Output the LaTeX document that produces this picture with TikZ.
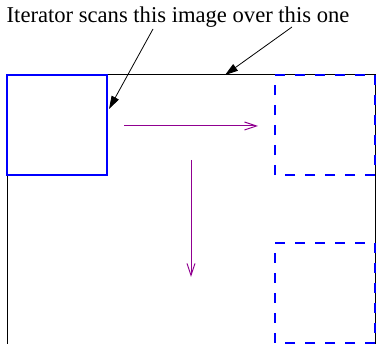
\documentclass[tikz,border=0pt]{standalone}
\usepackage{fontspec}
\setmainfont{Liberation Serif}
\usetikzlibrary{arrows.meta}
\definecolor{figblue}{RGB}{0,0,255}
\definecolor{figmag}{RGB}{144,0,144}
\tikzset{
  outer/.style={draw=black, line width=1pt},
  window/.style={draw=figblue, line width=1.5pt},
  ghost/.style={draw=figblue, line width=1.5pt, dash pattern=on 10pt off 10pt},
  pointer/.style={draw=black, line width=0.8pt, -{Triangle[length=13pt,width=8pt]}},
  scan/.style={draw=figmag, line width=1pt, -{Straight Barb[length=12pt,width=8pt]}},
}
\begin{document}
\begin{tikzpicture}[x=1pt,y=-1pt]
\useasboundingbox (0,0) rectangle (376,344);
\clip (0,0) rectangle (376,344);
% the large image being scanned
\draw[outer] (7,75) rectangle (375,380);
% later positions of the window
\draw[ghost] (275,175) -- (275,75) -- (375,75) -- (375,175) -- cycle;
\draw[ghost] (275,343) -- (275,243) -- (375,243) -- (375,343) -- cycle;
% the window itself
\draw[window] (7,75) rectangle (107,175);
% caption
\node[anchor=base west, inner sep=0pt, font=\fontsize{22.6}{26}\selectfont] (cap) at (6.5,23) {Iterator scans this image over this one};
\coordinate (capA) at (153,29);
\coordinate (capB) at (292,27);
\coordinate (winEdge) at (109,109);
\coordinate (imgEdge) at (225,75);
\draw[pointer] (capA) -- (winEdge);
\draw[pointer] (capB) -- (imgEdge);
% scan directions
\coordinate (hs) at (124,126);
\coordinate (he) at (258,126);
\coordinate (vs) at (191,160);
\coordinate (ve) at (191,277);
\draw[scan] (hs) -- (he);
\draw[scan] (vs) -- (ve);
\end{tikzpicture}
\end{document}
